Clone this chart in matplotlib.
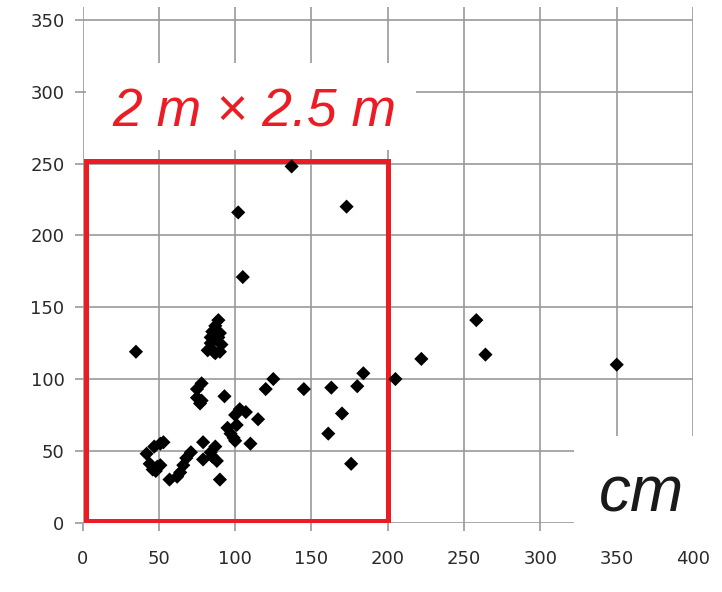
import matplotlib
matplotlib.use("Agg")
import matplotlib.pyplot as plt
from matplotlib.patches import Rectangle

# measured points (cm)
width_cm = [35, 102, 105, 137, 173, 258, 264, 350, 222, 205, 184, 180, 163, 145,
            170, 161, 176, 125, 120, 115, 110,
            89, 87, 85, 90, 84, 89, 84, 91, 82, 86, 90, 87,
            78, 75, 75, 78, 77, 93,
            103, 107, 100, 101, 95, 97, 99, 100,
            42, 47, 51, 53, 44, 49, 51, 48, 46, 57, 62, 64, 66, 68, 71,
            79, 87, 84, 79, 88, 85, 90]
length_cm = [119, 216, 171, 248, 220, 141, 117, 110, 114, 100, 104, 95, 94, 93,
             76, 62, 41, 100, 93, 72, 55,
             141, 137, 133, 132, 129, 129, 125, 124, 120, 119, 119, 118,
             97, 93, 87, 85, 83, 88,
             79, 77, 75, 68, 66, 62, 59, 57,
             48, 53, 55, 56, 41, 39, 40, 36, 37, 30, 32, 35, 40, 45, 49,
             56, 53, 49, 44, 43, 46, 30]

x_ticks = [0, 50, 100, 150, 200, 250, 300, 350, 400]
y_ticks = [0, 50, 100, 150, 200, 250, 300, 350]

red = "#ec1c24"
grid_col = "#999999"

fig = plt.figure(figsize=(7.22, 5.92), dpi=100)
ax = fig.add_axes([0.1143, 0.1171, 0.8456, 0.8711])

ax.set_xlim(0, 400)
ax.set_ylim(0, 359)
ax.set_xticks(x_ticks)
ax.set_yticks(y_ticks)
for s in ax.spines.values():
    s.set_visible(False)
ax.grid(True, color=grid_col, linewidth=1.2)
ax.set_axisbelow(True)
ax.tick_params(length=6, width=1.2, color=grid_col, labelsize=13, labelcolor="#2a2a2a")
ax.tick_params(axis="x", pad=14)
ax.tick_params(axis="y", pad=7)

# white label areas that hide the grid
ax.add_patch(Rectangle((2.3, 259.5), 216, 60.5, facecolor="white",
                       edgecolor="none", zorder=1))
ax.add_patch(Rectangle((322, -12), 100, 72, facecolor="white",
                       edgecolor="none", zorder=3, clip_on=False))

# 2 m x 2.5 m box
ax.add_patch(Rectangle((2, 1.5), 198, 250.5, fill=False, edgecolor=red,
                       linewidth=3.6, zorder=2))

ax.scatter(width_cm, length_cm, marker="D", s=52, color="black",
           edgecolors="none", zorder=4)

ax.text(19.4, 275.6, "2 m \u00d7 2.5 m", color=red, fontsize=38.5,
        family="Liberation Sans", style="italic", va="baseline", zorder=5)
ax.text(338, 7.5, "cm", color="#1a1a1a", fontsize=46,
        family="Liberation Sans", style="italic", va="baseline", zorder=5,
        clip_on=False)

fig.savefig("out.png", dpi=100)
